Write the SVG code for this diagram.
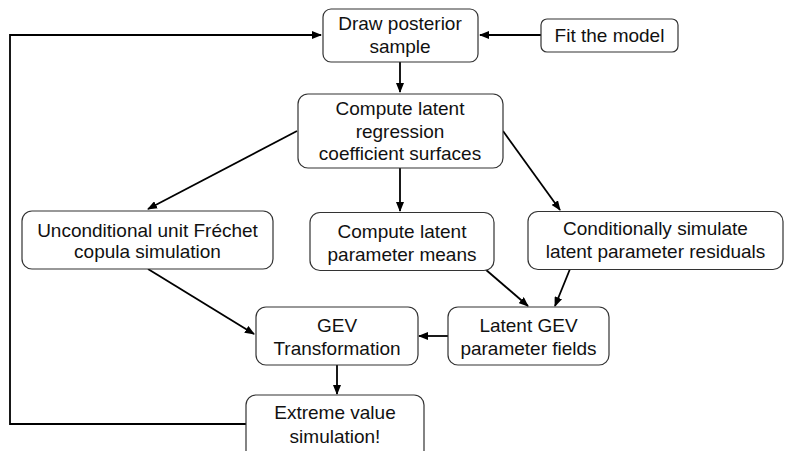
<svg xmlns="http://www.w3.org/2000/svg" width="785" height="451" viewBox="0 0 785 451">
<defs>
<style>
.box{fill:#fff;stroke:#333;stroke-width:1.2}
.t{font-family:"Liberation Sans",Arial,sans-serif;font-size:19px;fill:#111;text-anchor:middle}
.c{fill:none;stroke:#000;stroke-width:1.8}
</style>
<marker id="ah" markerWidth="10" markerHeight="8" refX="9" refY="4" orient="auto" markerUnits="userSpaceOnUse">
<path d="M0,0 L10,4 L0,8 Z" fill="#000"/>
</marker>
</defs>
<rect width="785" height="451" fill="#fff"/>
<g id="connectors">
<path class="c" d="M541,35 L480,35" marker-end="url(#ah)"/>
<path class="c" d="M246,424 L10,424 L10,35 L321,35" marker-end="url(#ah)"/>
<path class="c" d="M400,62 L400,92" marker-end="url(#ah)"/>
<path class="c" d="M297,131 L148,209" marker-end="url(#ah)"/>
<path class="c" d="M400,168 L400,211" marker-end="url(#ah)"/>
<path class="c" d="M503,131 L560,210" marker-end="url(#ah)"/>
<path class="c" d="M148,269 L254,334" marker-end="url(#ah)"/>
<path class="c" d="M485,269 L528,306" marker-end="url(#ah)"/>
<path class="c" d="M570,269 L555,306" marker-end="url(#ah)"/>
<path class="c" d="M448,336 L419,336" marker-end="url(#ah)"/>
<path class="c" d="M337,365 L337,394" marker-end="url(#ah)"/>
</g>
<g id="draw">
<rect class="box" x="323" y="9" width="155" height="53" rx="8"/>
<text class="t" x="400" y="30">Draw posterior</text>
<text class="t" x="400" y="53">sample</text>
</g>
<g id="fit">
<rect class="box" x="541" y="19" width="137" height="33" rx="6"/>
<text class="t" x="609.5" y="42">Fit the model</text>
</g>
<g id="regression">
<rect class="box" x="298" y="94" width="205" height="74" rx="10"/>
<text class="t" x="400" y="115">Compute latent</text>
<text class="t" x="400" y="138">regression</text>
<text class="t" x="400" y="160">coefficient surfaces</text>
</g>
<g id="frechet">
<rect class="box" x="22" y="211" width="251" height="58" rx="10"/>
<text class="t" x="147.5" y="236.5">Unconditional unit Fréchet</text>
<text class="t" x="147.5" y="258">copula simulation</text>
</g>
<g id="means">
<rect class="box" x="310" y="212.5" width="184" height="58" rx="10"/>
<text class="t" x="402" y="238">Compute latent</text>
<text class="t" x="402" y="261">parameter means</text>
</g>
<g id="residuals">
<rect class="box" x="528" y="211.5" width="255" height="58" rx="10"/>
<text class="t" x="655.5" y="235">Conditionally simulate</text>
<text class="t" x="655.5" y="258">latent parameter residuals</text>
</g>
<g id="fields">
<rect class="box" x="448" y="307" width="161" height="58" rx="10"/>
<text class="t" x="528.5" y="331.5">Latent GEV</text>
<text class="t" x="528.5" y="355">parameter fields</text>
</g>
<g id="gev">
<rect class="box" x="256" y="307" width="162" height="58" rx="10"/>
<text class="t" x="337" y="331.5">GEV</text>
<text class="t" x="337" y="355">Transformation</text>
</g>
<g id="extreme">
<rect class="box" x="246" y="395" width="178" height="70" rx="10"/>
<text class="t" x="335" y="418.5">Extreme value</text>
<text class="t" x="335" y="443">simulation!</text>
</g>
</svg>
